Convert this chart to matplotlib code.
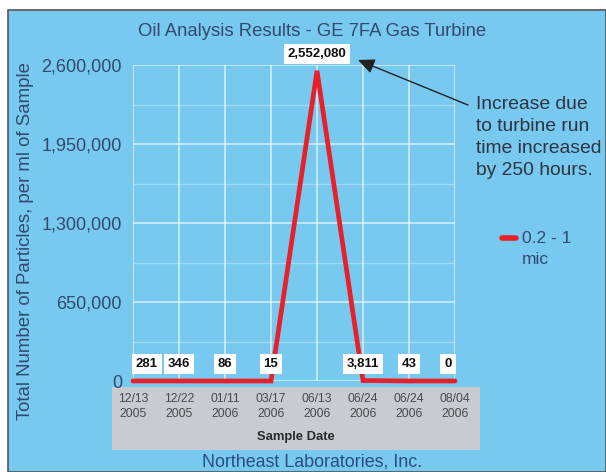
import matplotlib
matplotlib.use("Agg")
import matplotlib.pyplot as plt
from matplotlib.patches import Rectangle
from matplotlib.ticker import FuncFormatter, MultipleLocator
from matplotlib.legend_handler import HandlerLine2D

plt.rcParams['font.family'] = ['Liberation Sans', 'DejaVu Sans']

# data
dates = ['12/13\n2005', '12/22\n2005', '01/11\n2006', '03/17\n2006',
         '06/13\n2006', '06/24\n2006', '06/24\n2006', '08/04\n2006']
particles = [281, 346, 86, 15, 2552080, 3811, 43, 0]
label_dx = [14, 0, 0, 0, 0, 0, 0, -7]   # pixel nudges so boxes stay readable
series_name = '0.2 - 1\nmic'

BLUE = '#78c9f0'
NAVY = '#34496e'
RED = '#e8202a'
W, H = 606, 472


class TopLine(HandlerLine2D):
    # put the legend swatch next to the first text line, not the middle
    def create_artists(self, legend, orig_handle, xdescent, ydescent, width, height, fontsize, trans):
        return super().create_artists(legend, orig_handle, xdescent, ydescent - 16,
                                      width, height, fontsize, trans)


fig = plt.figure(figsize=(W / 100, H / 100), dpi=100)
fig.patch.set_facecolor('white')

# blue panel with thin dark border
fig.patches.append(Rectangle((8 / W, 0), 1 - 8 / W, 1 - 10 / H, transform=fig.transFigure,
                             facecolor=BLUE, edgecolor='#555555', linewidth=1.2, zorder=-3))
# grey box behind the date labels
fig.patches.append(Rectangle((112 / W, (H - 450) / H), 368 / W, 63 / H, transform=fig.transFigure,
                             facecolor='#c8cbd0', edgecolor='none', zorder=-2))

ax = fig.add_axes([133 / W, 91 / H, 322 / W, 316 / H])
ax.set_facecolor('none')
for s in ax.spines.values():
    s.set_visible(False)

x = list(range(len(particles)))
ax.plot(x, particles, color=RED, lw=3.4, solid_capstyle='round', solid_joinstyle='miter',
        clip_on=False, zorder=5, label=series_name)

ax.set_xlim(0, 7)
ax.set_ylim(0, 2600000)
ax.yaxis.set_major_locator(MultipleLocator(650000))
ax.yaxis.set_minor_locator(MultipleLocator(325000))
ax.yaxis.set_major_formatter(FuncFormatter(lambda v, p: f'{int(v):,}'))
ax.set_xticks(x)
ax.set_xticklabels(dates, fontsize=8.8, color='#4a4a4a', linespacing=1.25,
                   family=['Liberation Sans Narrow', 'Liberation Sans'])
ax.tick_params(axis='both', which='both', length=0)
ax.tick_params(axis='y', labelsize=13, labelcolor=NAVY, pad=8)
ax.tick_params(axis='x', pad=9)

ax.grid(True, which='major', color='white', alpha=0.7, lw=1.1)
ax.grid(True, which='minor', axis='y', color='white', alpha=0.3, lw=1.0)
ax.set_axisbelow(True)

# value labels in white boxes
for xi, v, dx in zip(x, particles, label_dx):
    ax.annotate(f'{v:,}', xy=(xi, v), xytext=(dx * 0.72, 12), textcoords='offset points',
                ha='center', va='center', fontsize=9.5, fontweight='bold', color='#111111',
                bbox=dict(boxstyle='square,pad=0.3', fc='white', ec='none'),
                annotation_clip=False, zorder=6)

ax.set_ylabel('Total Number of Particles, per ml of Sample', fontsize=13.4, color=NAVY)
ax.yaxis.set_label_coords(-0.308, 0.443)

fig.text(312 / W, 1 - 32 / H, 'Oil Analysis Results - GE 7FA Gas Turbine',
         ha='center', va='center', fontsize=13.3, color=NAVY)
fig.text(296 / W, 1 - 437 / H, 'Sample Date', ha='center', va='center',
         fontsize=9.4, fontweight='bold', color='#2a2a2a')
fig.text(312 / W, 1 - 462 / H, 'Northeast Laboratories, Inc.', ha='center', va='center',
         fontsize=12.9, color='#2a4d85')

# callout for the spike
ax.annotate('', xy=(4.89, 2641000), xytext=(468 / W, 1 - 105 / H),
            textcoords='figure fraction', annotation_clip=False,
            arrowprops=dict(arrowstyle='-|>,head_length=1.0,head_width=0.45',
                            color='#222222', lw=1.0, shrinkA=0, shrinkB=0))
fig.text(476 / W, 1 - 96 / H, 'Increase due\nto turbine run\ntime increased\nby 250 hours.',
         ha='left', va='top', fontsize=13.9, color='#2e3440', linespacing=1.38)

leg = ax.legend(loc='center left', bbox_to_anchor=(486 / W, 1 - 249 / H),
                bbox_transform=fig.transFigure, frameon=False, fontsize=12.5,
                handlelength=0.85, handletextpad=0.3, labelcolor=NAVY,
                handler_map={plt.Line2D: TopLine()})
for t in leg.get_texts():
    t.set_linespacing(1.45)
for line in leg.get_lines():
    line.set_linewidth(4)

fig.savefig('out.png', dpi=100, facecolor=fig.get_facecolor())
